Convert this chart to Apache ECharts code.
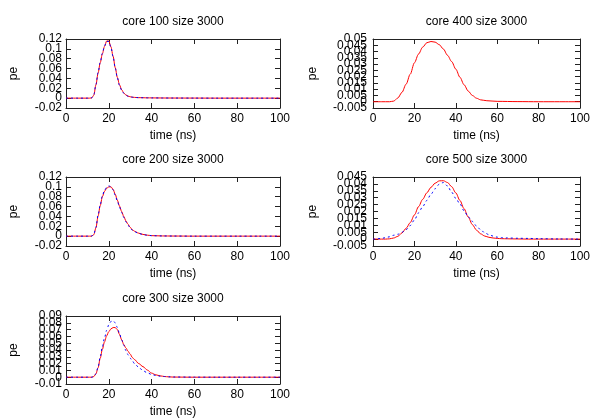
<!DOCTYPE html>
<html><head><meta charset="utf-8">
<script src="https://cdn.jsdelivr.net/npm/echarts@6/dist/echarts.min.js"></script>
<style>html,body{margin:0;padding:0;background:#fff}#c{width:600px;height:420px}</style>
</head><body><div id="c"></div>
<script>
// ---- data ----
const titles = ['core 100 size 3000', 'core 400 size 3000', 'core 200 size 3000', 'core 500 size 3000', 'core 300 size 3000'];
const xTicks = ['0', '20', '40', '60', '80', '100'];
const yTicks100 = ['-0.02', '0', '0.02', '0.04', '0.06', '0.08', '0.1', '0.12'];
const yTicks400 = ['-0.005', '0', '0.005', '0.01', '0.015', '0.02', '0.025', '0.03', '0.035', '0.04', '0.045', '0.05'];
const yTicks200 = ['-0.02', '0', '0.02', '0.04', '0.06', '0.08', '0.1', '0.12'];
const yTicks500 = ['-0.005', '0', '0.005', '0.01', '0.015', '0.02', '0.025', '0.03', '0.035', '0.04', '0.045'];
const yTicks300 = ['-0.01', '0', '0.01', '0.02', '0.03', '0.04', '0.05', '0.06', '0.07', '0.08', '0.09'];

const t100 = [0,5,10,11,12,13,14,15,16,17,18,19,20,21,22,23,24,25,26,27,28,29,30,31,32,34,36,38,40,45,50,60,70,80,90,100];
const red100 = [0,0,0,0,0.0005,0.006,0.027,0.051,0.072,0.09,0.105,0.116,0.116,0.104,0.085,0.062,0.042,0.027,0.017,0.0105,0.0065,0.004,0.0028,0.002,0.0015,0.001,0.0008,0.0006,0.0005,0.0003,0.0002,0.0001,0,0,0,0];
const blue100 = [0,0,0,0,0.0007,0.007,0.028,0.052,0.073,0.091,0.106,0.115,0.115,0.103,0.084,0.061,0.041,0.026,0.016,0.01,0.006,0.0038,0.0026,0.0019,0.0014,0.001,0.0008,0.0006,0.0005,0.0003,0.0002,0.0001,0,0,0,0];

const t400 = [0,4,8,10,12,14,16,18,20,22,24,26,28,30,32,34,36,38,40,42,44,46,48,50,52,55,60,70,80,90,100];
const red400 = [0,0,0,0.0005,0.003,0.0075,0.014,0.022,0.031,0.038,0.0435,0.047,0.048,0.0475,0.0455,0.042,0.037,0.032,0.026,0.0195,0.0135,0.0085,0.005,0.0028,0.0015,0.0008,0.0003,0.0001,0,0,0];

const t200 = [0,5,10,11,12,13,14,15,16,17,18,19,20,21,22,23,24,25,26,27,28,29,30,31,32,34,36,38,40,45,50,60,70,80,90,100];
const red200 = [0,0,0,0,0,0.003,0.017,0.041,0.062,0.08,0.091,0.097,0.1,0.1,0.095,0.085,0.073,0.061,0.05,0.04,0.031,0.024,0.018,0.013,0.01,0.006,0.0035,0.002,0.001,0.0004,0.0002,0,0,0,0,0];
const blue200 = [0,0,0,0,0.0003,0.004,0.018,0.043,0.064,0.082,0.093,0.099,0.102,0.1,0.094,0.083,0.071,0.059,0.048,0.038,0.029,0.022,0.017,0.012,0.009,0.0055,0.0032,0.0018,0.001,0.0004,0.0002,0,0,0,0,0];

const t500 = [0,2,4,6,8,10,12,14,16,18,20,22,24,26,28,30,32,34,36,38,40,42,44,46,48,50,52,54,56,58,60,62,65,70,75,80,90,100];
const red500 = [0,0,0,0,0.0002,0.0008,0.002,0.0045,0.0078,0.012,0.0175,0.0235,0.0288,0.0335,0.0375,0.0405,0.0422,0.0423,0.041,0.038,0.0335,0.028,0.022,0.016,0.0105,0.0065,0.0038,0.0022,0.0013,0.0008,0.0005,0.0003,0.0002,0.0001,0,0,0,0];
const blue500 = [0,0.0002,0.0005,0.001,0.0017,0.0028,0.0035,0.005,0.0068,0.0098,0.0138,0.019,0.0235,0.028,0.0325,0.0365,0.0398,0.041,0.0385,0.034,0.0295,0.0255,0.0205,0.0162,0.0128,0.0095,0.0068,0.0045,0.0032,0.0022,0.0014,0.001,0.0008,0.0006,0.0005,0.0003,0.0001,0];

const t300 = [0,5,10,11,12,13,14,15,16,17,18,19,20,21,22,23,24,25,26,27,28,29,30,31,32,34,36,38,40,42,44,46,48,50,60,70,80,90,100];
const red300 = [0,0,0,0,0,0.001,0.005,0.014,0.028,0.041,0.052,0.061,0.067,0.071,0.073,0.073,0.07,0.063,0.055,0.048,0.043,0.038,0.034,0.029,0.026,0.02,0.0155,0.0105,0.006,0.0035,0.002,0.001,0.0005,0.0002,0,0,0,0,0];
const blue300 = [0,0,0,0,0,0.001,0.005,0.015,0.03,0.045,0.058,0.069,0.077,0.082,0.083,0.08,0.073,0.064,0.055,0.047,0.039,0.033,0.028,0.024,0.02,0.0145,0.0095,0.0065,0.004,0.0025,0.0015,0.001,0.0006,0.0003,0.0001,0,0,0,0];

// ---- layout ----
const panels = [
  {t: t100, red: red100, blue: blue100, yt: yTicks100, grid: {left: 66, top: 39, width: 214, height: 69}, lm: 4, ng: 46},
  {t: t400, red: red400, blue: null,    yt: yTicks400, grid: {left: 373, top: 39, width: 207, height: 69}, lm: 6, ng: 54},
  {t: t200, red: red200, blue: blue200, yt: yTicks200, grid: {left: 66, top: 177, width: 214, height: 69}, lm: 4, ng: 46},
  {t: t500, red: red500, blue: blue500, yt: yTicks500, grid: {left: 373, top: 177, width: 207, height: 69}, lm: 6, ng: 54},
  {t: t300, red: red300, blue: blue300, yt: yTicks300, grid: {left: 66, top: 316, width: 214, height: 68}, lm: 4, ng: 46}
];

const FONT = 'Liberation Sans, Arial, sans-serif';
const AX = '#222';
const zip = (a, b) => a.map((x, i) => [x, b[i]]);
const xmin = +xTicks[0], xmax = +xTicks[xTicks.length - 1], xint = +xTicks[1] - +xTicks[0];

const grids = [], xAxes = [], yAxes = [], series = [], graphics = [];
panels.forEach((p, i) => {
  grids.push(Object.assign({containLabel: false}, p.grid));
  const ymin = +p.yt[0], ymax = +p.yt[p.yt.length - 1], yint = +(+p.yt[1] - +p.yt[0]).toFixed(6);
  const tick = {show: true, inside: true, length: 5, lineStyle: {color: AX, width: 1}};
  const line = {show: true, onZero: false, lineStyle: {color: AX, width: 1}};
  const lbl = {color: '#000', fontFamily: FONT, fontSize: 12};
  const xi = xAxes.length, yi = yAxes.length;
  xAxes.push({type: 'value', gridIndex: i, position: 'bottom', min: xmin, max: xmax, interval: xint,
    axisLine: line, axisTick: tick, splitLine: {show: false},
    axisLabel: Object.assign({margin: 5}, lbl),
    name: 'time (ns)', nameLocation: 'middle', nameGap: 22, nameTextStyle: lbl});
  xAxes.push({type: 'value', gridIndex: i, position: 'top', min: xmin, max: xmax, interval: xint,
    axisLine: line, axisTick: tick, splitLine: {show: false}, axisLabel: {show: false}});
  // value axis carrying the data (left), labels drawn by the category axis below
  yAxes.push({type: 'value', gridIndex: i, position: 'left', min: ymin, max: ymax, interval: yint,
    axisLine: line, axisTick: tick, splitLine: {show: false}, axisLabel: {show: false}});
  yAxes.push({type: 'value', gridIndex: i, position: 'right', min: ymin, max: ymax, interval: yint,
    axisLine: line, axisTick: tick, splitLine: {show: false}, axisLabel: {show: false}});
  // label-only axis: evenly spaced tick labels, all shown (overlapping like the original)
  yAxes.push({type: 'category', gridIndex: i, position: 'left', data: p.yt, boundaryGap: false,
    axisLine: {show: false}, axisTick: {show: false}, splitLine: {show: false},
    axisLabel: Object.assign({margin: p.lm, interval: 0, hideOverlap: false}, lbl),
    name: 'pe', nameLocation: 'middle', nameGap: p.ng, nameRotate: 90, nameTextStyle: lbl});
  series.push({type: 'line', xAxisIndex: xi, yAxisIndex: yi, data: zip(p.t, p.red), showSymbol: false,
    smooth: 0.3, smoothMonotone: 'x', lineStyle: {color: '#ff0000', width: 1}, itemStyle: {color: '#ff0000'}, z: 2, silent: true});
  if (p.blue) {
    series.push({type: 'line', xAxisIndex: xi, yAxisIndex: yi, data: zip(p.t, p.blue), showSymbol: false,
      smooth: 0.3, smoothMonotone: 'x', lineStyle: {color: '#0000ff', width: 1, type: [2, 3]}, itemStyle: {color: '#0000ff'}, z: 3, silent: true});
  }
  graphics.push({type: 'text', x: p.grid.left + p.grid.width / 2, y: p.grid.top - 17,
    style: {text: titles[i], fill: '#000', font: '12px ' + FONT, textAlign: 'center', textVerticalAlign: 'middle'}});
});

const chart = echarts.init(document.getElementById('c'), null, {renderer: 'canvas'});
chart.setOption({
  backgroundColor: '#fff',
  animation: false,
  grid: grids, xAxis: xAxes, yAxis: yAxes, series: series, graphic: graphics
});
</script></body></html>
